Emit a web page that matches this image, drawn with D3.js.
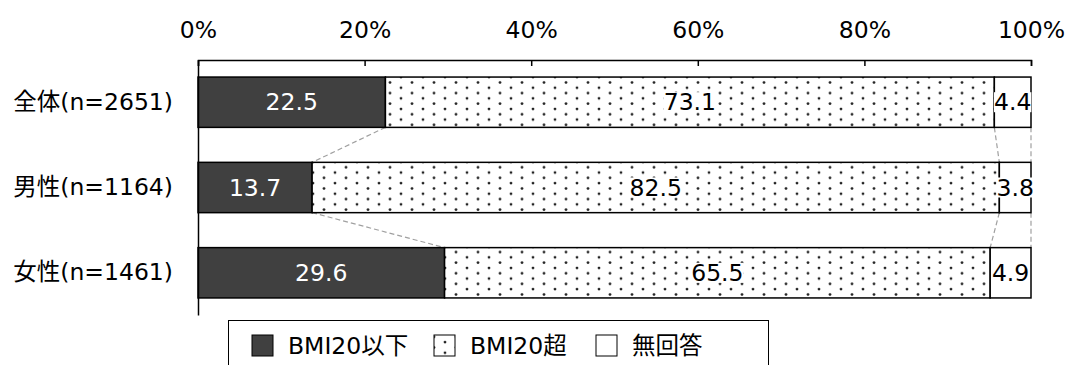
<!DOCTYPE html>
<html>
<head>
<meta charset="utf-8">
<script src="https://cdn.jsdelivr.net/npm/d3@7"></script>
<style>
  html, body { margin: 0; padding: 0; background: #fff; }
  svg { display: block; }
  text { font-family: "DejaVu Sans", Verdana, "Noto Sans CJK JP", sans-serif; }
</style>
</head>
<body>
<svg id="chart" width="1068" height="365"></svg>
<script>
// Respondent groups and BMI category shares (%)
const categories = ["全体(n=2651)", "男性(n=1164)", "女性(n=1461)"];
const seriesNames = ["BMI20以下", "BMI20超", "無回答"];
const bmiUnder20 = [22.5, 13.7, 29.6];
const bmiOver20 = [73.1, 82.5, 65.5];
const noAnswer = [4.4, 3.8, 4.9];
const tickValues = [0, 20, 40, 60, 80, 100];
const tickLabels = ["0%", "20%", "40%", "60%", "80%", "100%"];

const seriesValues = [bmiUnder20, bmiOver20, noAnswer];
const FS = 23.5;

const svg = d3.select("#chart");
const defs = svg.append("defs");

// sparse dot pattern for the middle segment
const pat = defs.append("pattern")
  .attr("id", "dots")
  .attr("patternUnits", "userSpaceOnUse")
  .attr("width", 22).attr("height", 10.6);
pat.append("rect").attr("width", 22).attr("height", 10.6).attr("fill", "#fff");
pat.append("circle").attr("cx", 5).attr("cy", 3).attr("r", 1.4).attr("fill", "#222");
pat.append("circle").attr("cx", 16).attr("cy", 8.3).attr("r", 1.4).attr("fill", "#222");

const fills = ["#404040", "url(#dots)", "#fff"];
const labelColors = ["#fff", "#000", "#000"];

const x = d3.scaleLinear().domain([0, 100]).range([198, 1031]);
const y = d3.scaleBand().domain(categories).range([60, 315]).paddingInner(0.41).paddingOuter(0.2);

// stacked rows
const rows = categories.map((c, i) => {
  let acc = 0;
  return seriesValues.map((s, k) => {
    const seg = { cat: c, k, x0: acc, x1: acc + s[i], v: s[i] };
    acc += s[i];
    return seg;
  });
});

// dashed connectors between neighbouring bars at segment boundaries
const conn = svg.append("g");
for (let i = 0; i < rows.length - 1; i++) {
  rows[i].forEach((seg, k) => {
    conn.append("line")
      .attr("x1", x(seg.x1)).attr("y1", y(categories[i]) + y.bandwidth())
      .attr("x2", x(rows[i + 1][k].x1)).attr("y2", y(categories[i + 1]))
      .attr("stroke", "#a0a0a0").attr("stroke-width", 1.2)
      .attr("stroke-dasharray", "5,3");
  });
}

// bars
const barG = svg.append("g");
rows.flat().forEach(seg => {
  barG.append("rect")
    .attr("x", x(seg.x0)).attr("y", y(seg.cat))
    .attr("width", x(seg.x1) - x(seg.x0)).attr("height", y.bandwidth())
    .attr("fill", fills[seg.k])
    .attr("stroke", "#000").attr("stroke-width", 1.5);
});

// value labels
const labG = svg.append("g");
rows.flat().forEach(seg => {
  const cx = (x(seg.x0) + x(seg.x1)) / 2;
  const cy = y(seg.cat) + y.bandwidth() / 2;
  const g = labG.append("g");
  const t = g.append("text")
    .attr("x", cx).attr("y", cy)
    .attr("text-anchor", "middle").attr("dominant-baseline", "central")
    .attr("font-size", FS).attr("fill", labelColors[seg.k])
    .text(seg.v.toFixed(1));
  if (seg.k > 0) {
    const bb = t.node().getBBox();
    g.insert("rect", "text")
      .attr("x", bb.x).attr("y", bb.y + 4)
      .attr("width", bb.width).attr("height", bb.height - 8)
      .attr("fill", "#fff");
  }
});

// top axis
const axis = d3.axisTop(x).tickValues(tickValues)
  .tickFormat((d, i) => tickLabels[i]).tickSize(-6).tickPadding(0);
const ax = svg.append("g").attr("transform", "translate(0,60)").call(axis);
ax.select(".domain").attr("stroke", "#000").attr("stroke-width", 1.5);
ax.selectAll(".tick line").attr("stroke", "#000").attr("stroke-width", 1.5);
ax.selectAll(".tick text")
  .attr("y", -22).attr("dy", null)
  .attr("font-size", FS).attr("fill", "#000")
  .attr("font-family", "\"DejaVu Sans\", Verdana, sans-serif");

// left axis
const ay = svg.append("g").attr("transform", "translate(198,0)")
  .call(d3.axisLeft(y).tickSize(0).tickPadding(25));
ay.select(".domain").attr("stroke", "#000").attr("stroke-width", 1.5);
ay.selectAll(".tick text").attr("font-size", FS).attr("fill", "#000")
  .attr("font-family", "\"DejaVu Sans\", \"Noto Sans CJK JP\", sans-serif");

// legend
const leg = svg.append("g");
leg.append("rect").attr("x", 228.5).attr("y", 320.5).attr("width", 540).attr("height", 60)
  .attr("fill", "#fff").attr("stroke", "#000").attr("stroke-width", 1);
const legX = [252, 434, 596];
seriesNames.forEach((n, k) => {
  leg.append("rect").attr("x", legX[k]).attr("y", 335).attr("width", 21).attr("height", 21)
    .attr("fill", fills[k]).attr("stroke", "#000").attr("stroke-width", 1);
  leg.append("text").attr("x", legX[k] + 36).attr("y", 346)
    .attr("dominant-baseline", "central").attr("font-size", FS).attr("fill", "#000")
    .text(n);
});
</script>
</body>
</html>
